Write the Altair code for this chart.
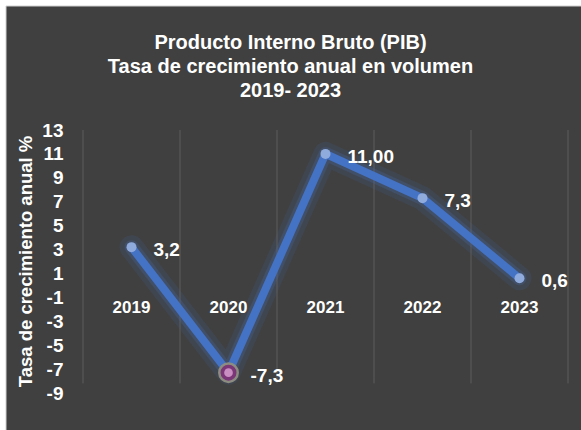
import altair as alt
import pandas as pd

years = [2019, 2020, 2021, 2022, 2023]
growth = [3.2, -7.3, 11.0, 7.3, 0.6]
value_labels = ["3,2", "-7,3", "11,00", "7,3", "0,6"]
highlight = [False, True, False, False, False]
y_ticks = [-9, -7, -5, -3, -1, 1, 3, 5, 7, 9, 11, 13]
title_lines = ["Producto Interno Bruto (PIB)", "Tasa de crecimiento anual en volumen", "2019- 2023"]
y_title = "Tasa de crecimiento anual %"

df = pd.DataFrame({"year": years, "growth": growth, "label": value_labels, "hl": highlight})

FONT = "Liberation Sans"
BLUE = "#4472C4"

x_scale = alt.Scale(domain=[2018.5, 2023.5], nice=False, zero=False)
y_scale = alt.Scale(domain=[-9, 13], nice=False, zero=False)
y_axis = alt.Axis(values=y_ticks, grid=False, ticks=False, domain=False, zindex=1,
                  labelOverlap=False, labelExpr="'' + datum.value",
                  labelFont=FONT, labelFontSize=19, labelFontWeight="bold", labelColor="#ffffff",
                  labelPadding=20, title=y_title, titleFont=FONT, titleFontSize=18.5,
                  titleFontWeight="bold", titleColor="#ffffff", titleX=-58, titleY=131,
                  titleAngle=270, titleBaseline="middle")

x_enc = alt.X("year:Q", scale=x_scale, axis=None)
y_enc = alt.Y("growth:Q", scale=y_scale, axis=y_axis)

base = alt.Chart(df)

frame = base.mark_rect(color="#404040", stroke="#d0d0d0", strokeWidth=1).encode(
    x=alt.value(-77), x2=alt.value(505), y=alt.value(-124), y2=alt.value(306)
).transform_filter("datum.year == 2019")

grid_left = base.mark_rule(color="#5c5c5c", strokeWidth=1).transform_calculate(
    pos="datum.year - 0.5", top="13", bottom="-8.2"
).encode(x=alt.X("pos:Q", scale=x_scale, axis=None),
         y=alt.Y("top:Q", scale=y_scale, axis=y_axis), y2="bottom:Q")
grid_right = base.mark_rule(color="#5c5c5c", strokeWidth=1).transform_filter(
    "datum.year == 2023"
).transform_calculate(
    pos="datum.year + 0.5", top="13", bottom="-8.2"
).encode(x=alt.X("pos:Q", scale=x_scale, axis=None),
         y=alt.Y("top:Q", scale=y_scale, axis=y_axis), y2="bottom:Q")

glow_wide = base.mark_line(color=BLUE, strokeWidth=24, opacity=0.12, strokeCap="round",
                           strokeJoin="round").encode(x=x_enc, y=y_enc)
glow_mid = base.mark_line(color=BLUE, strokeWidth=14, opacity=0.2, strokeCap="round",
                          strokeJoin="round").encode(x=x_enc, y=y_enc)
line = base.mark_line(color=BLUE, strokeWidth=8, strokeJoin="round").encode(x=x_enc, y=y_enc)

pts = base.mark_circle(color="#8FAADC", opacity=1, size=100).encode(
    x=x_enc, y=y_enc).transform_filter("!datum.hl")

hl_outer = base.mark_point(shape="circle", filled=True, fill="#7A3676", stroke="#8C8C80",
                           strokeWidth=2.5, opacity=1, size=340).encode(
    x=x_enc, y=y_enc).transform_filter("datum.hl")
hl_inner = base.mark_circle(color="#C98DC2", opacity=1, size=75).encode(
    x=x_enc, y=y_enc).transform_filter("datum.hl")

labels = base.mark_text(align="left", baseline="middle", dx=22, dy=3, font=FONT, fontSize=19,
                        fontWeight="bold", color="#ffffff").encode(
    x=x_enc, y=y_enc, text="label:N")

year_labels = base.mark_text(align="center", baseline="middle", dy=23, font=FONT, fontSize=17,
                             fontWeight="bold", color="#ffffff").encode(
    x=x_enc, y=alt.Y("zero:Q", scale=y_scale, axis=y_axis), text=alt.Text("year:Q", format="d")
).transform_calculate(zero="0")

chart = alt.layer(
    frame, glow_wide, grid_left, grid_right, glow_mid, line, pts, hl_outer, hl_inner, labels, year_labels
).properties(
    width=485, height=263,
    title=alt.TitleParams(text=title_lines, font=FONT, fontSize=20, fontWeight="bold",
                          color="#ffffff", lineHeight=24, anchor="middle", dx=-35, offset=-95),
    padding={"left": 83, "top": 130, "right": 13, "bottom": 37},
    autosize=alt.AutoSizeParams(type="none"),
    background="#ffffff",
).configure_view(strokeWidth=0).configure_axis(labelOverlap=False)

chart.save("out.html", embed_options={"renderer": "svg", "actions": False})
